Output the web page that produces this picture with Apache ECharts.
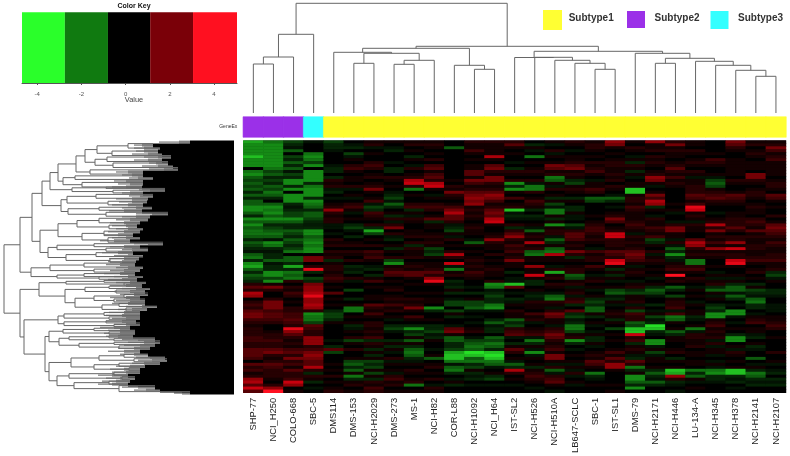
<!DOCTYPE html>
<html>
<head>
<meta charset="utf-8">
<style>html,body{margin:0;background:#fff}#chart{width:790px;height:456px}</style>
<script src="https://cdn.jsdelivr.net/npm/echarts@6/dist/echarts.min.js"></script>
</head>
<body>
<div id="chart"></div>
<script>
const cellLines = ["SHP-77","NCI_H250","COLO-668","SBC-5","DMS114","DMS-153","NCI-H2029","DMS-273","MS-1","NCI-H82","COR-L88","NCI-H1092","NCI_H64","IST-SL2","NCI-H526","NCI-H510A","LB647-SCLC","SBC-1","IST-SL1","DMS-79","NCI-H2171","NCI-H446","LU-134-A","NCI-H345","NCI-H378","NCI-H2141","NCI-H2107"];
const subtypeNames = ["Subtype1","Subtype2","Subtype3"];
const subtypeColors = ["#ffff33","#9b30e8","#33ffff"];
const lineSubtype = [1,1,1,2,0,0,0,0,0,0,0,0,0,0,0,0,0,0,0,0,0,0,0,0,0,0,0];

const keyBreaks = [-4.69,-2.75,-0.8,1.11,3.05,5.04];
const keyColors = ["#2aff2a","#107a10","#000000","#7a0008","#ff1020"];
const keyTicks = [-4,-2,0,2,4];

// one array per cell line, top row first, 85 rows
const heatColumns = [
[-3.5,-3,-3,-3,-3,-4,-3,-3,-3,0, -2.5,-3,-2,-1.5,-2,-1.5,-2,-1,-2,-1, -2,-2,-3,-3,-2,-1,-3,-2,-3,-2, -2.5,-2.5,-2,-1,-2,-1.5,-1,-.5,-2,-2.5, -1,-3,-3.5,-2,-1,-2,-1.5,-1,1,2, 1,3.5,3,0,1,1.5,1,2,2.5,2.5, 1.5,1,.5,1,1,1,1.5,1.5,1,1, 2,2,2,1.5,0,2,1,1.5,.5,1, 3,3.5,2,4,2],
[-2.5,-3,-3,-3,-3,-3,-3,-3,-3,-2.5, -1.5,-2,-1,-1.5,-1,-2,-1.5,-2.5,-2,-1, 0,-2,-3,-2.5,-3,-2,-3,-2,-1,-1.5, -2,-2.5,-2,-.5,-3,-2.5,-1,-.5,-1,-1, -2,-.5,-1,-1,-3,-3,-1.5,-3,.5,2.5, 1,0,0,1,2.5,2.5,2.5,1.5,2,2, 1.5,1,0,0,.5,1,1,1.5,1,1, 2,2.5,1,.5,1,2,1.5,1,1,1, .5,0,1,3,5],
[-1.5,-1,-.5,-2,0,-1.5,-1,-2,-1,-2, -.5,-1.5,-1,-3,-3,-1,-3,0,-3,-3, -3,-1,-.5,-1,-1.5,-1.5,-3,-2,-1,-1, -2,-1.5,-1,-2,-1.5,-1,-1.5,-2.5,0,-2, -2,-1,-3.5,-1,-2.5,-2,-2.5,1,0,1, .5,1.5,1,0,.5,0,1,1,1.5,1.5, 2,1.5,1,4.5,3,2,1,.5,1,.5, 1.5,2,1,2.5,1,1.5,.5,2,1,1, 1.5,4,3,0,.5],
[-.5,0,0,0,-2.5,-3,-2.5,-1.5,-3,0, -3,-3,-3,-3,-1,-2.5,-3,-3,-3,-1, -3,-2.5,-2,-1,-2,-2,-1.5,-1,-.7,-1, -3,-3,-2,-2.5,-3,-2.5,-3,-3,0,2.5, 2.5,0,1,4.5,-1,0,-1.5,-1,2.5,3, 3,3.5,4.5,3,3,3.5,3,1,-3,-2.5, -2.5,-1.5,2,1.5,1,1,3,3,3,1, 1.5,2.5,3,2.5,2,2,3.5,1,-1,1, .5,-1,0,-.5,0],
[-1.5,-1,-1,-.5,0,0,0,0,-.5,-1, -1,0,-1,1,.5,1,-.5,-1,0,-.5, 0,.5,1,3,1,.5,1,1,-.5,-.5, 0,-.5,0,1,.5,1,0,1,.5,1, -1,.5,1,1,.5,1,1.5,1,0,.5, 0,2,0,.5,0,.5,0,-1,-1.5,-1.5, -1,.5,0,0,0,0,0,-.5,0,-1, 2,-1.5,0,0,0,.5,0,.5,0,1, 0,.5,0,.5,1],
[0,-.5,-1,0,-1.5,-.5,.5,0,1,1.5, .5,0,.5,.5,0,1,-.5,0,.5,-.5, 0,1,1.5,.5,-.5,0,.5,0,-1,-1.5, -.5,0,-1,0,.5,1,0,1,.5,0, 1,0,-1,-.5,-1,0,1,-.5,0,0, -1.5,0,0,-1,0,.5,-2.5,-2.5,0,.5, 0,.5,-1,-.5,.5,0,1,-1.5,.5,0, 1,0,0,.5,-1.5,-2,-1,-2,.5,-2.5, -1,.5,1,0,.5],
[.5,1,-.5,0,.5,0,0,1,1.5,1, 0,.5,1,0,.5,1,2.5,.5,0,.5, 1.5,-.5,-1.5,-1,1.5,1,.5,0,1,-1, -3.5,-1.5,0,.5,0,1,0,1.5,1,1.5, .5,0,-.5,-1,0,-1,.5,1.5,0,.5, 0,0,.5,.5,0,2,1,.5,1.5,.5, 0,1,1,.5,1,.5,1.5,-1,1,.5, -1,.5,-1,.5,-1.5,-1,-1.5,.5,-1.5,.5, -1,1,.5,1.5,1],
[.5,0,-.5,-1,0,0,0,-.5,0,-1, -1,0,1,.5,0,.5,0,-.5,-1,-1.5, -.5,-2,-1,0,.5,-1,1,-.5,1,2.5, 0,1,-.5,-1,0,.5,-1,.5,0,1, -1.5,-3,.5,1,2,1.5,0,.5,0,.5, 1,0,.5,1,.5,1.5,.5,1,0,.5, -.5,0,-1,-1.5,-.5,0,0,-1,.5,-1, .5,-.5,0,1,-.5,.5,0,.5,-.5,1, 1.5,.5,1,0,.5],
[.5,1,0,.5,0,-1,.5,0,-.5,1, 0,.5,1,3.5,4,1,-2.5,0,.5,0, 0,1,1.5,-1,.5,-.5,1,.5,0,0, .5,.5,1,0,1,-1,1,.5,.5,1, 0,.5,1,.5,2,2,.5,0,.5,0, 0,.5,0,1,.5,1,2.5,.5,0,1.5, .5,0,-1,-3,-1,-1.5,.5,-2,.5,-1, -2,-2.5,-2,-1,-.5,.5,0,1,.5,0, .5,1,-2.5,0,.5],
[.5,1,.5,0,.5,0,1,0,1.5,2, .5,1.5,2,1,3.5,4,.5,0,-.5,.5, 0,1,1.5,1,0,.5,2,-1,.5,.5, 0,.5,1,.5,1,.5,-1.5,-1,-1.5,.5, 0,.5,.5,1,2,1,3,4.5,.5,0, 0,.5,0,.5,.5,0,-3,-1,0,0, .5,0,-1,-1,-1.5,-.5,-1,.5,0,0, -.5,0,.5,-2,0,.5,1,0,.5,0, 1,0,-.5,1,.5],
[0,0,-2,0,0,0,0,0,0,0, 0,0,0,.5,0,1,.5,2.5,1,.5, 0,.5,1.5,2.5,3.5,2,2,1,-.5,-1, -1.5,.5,-.5,1,0,.5,0,1,3.5,1, 0,4,-.5,-2.5,.5,1,0,-1,-.5,-1, .5,-1,0,-.5,-1.5,-1.5,0,-1.5,.5,-1, 0,0,-.5,2,2.5,.5,-2,-2,-1,-1, -1.5,-3.5,-4,-4,-2.5,-.5,-2,-2.5,-1,0, -.5,.5,-1,0,0],
[1,.5,.5,1.5,.5,0,.5,0,.5,.5, 2,2,.5,2.5,1.5,.5,1,2,2.5,3, 2.5,3,.5,1,.5,1,.5,0,.5,1, .5,.5,0,-.5,-2,.5,0,.5,0,.5, 1,.5,1,.5,1.5,1,.5,0,0,-.5, 0,-1,0,.5,-1.5,-1.5,-2,-.5,0,-.5, 0,-.5,0,.5,1,0,-.5,-1.5,-2,-2.5, -2,-4.5,-4,-2,-2.5,-1,-1.5,.5,-1,-.5, -1,0,-.5,0,0],
[1,.5,.5,.5,.5,3.5,.5,0,2,2.5, 1,.5,2.5,2.5,1,.5,1,2,3,2.5, 1.5,.5,1,2,2.5,2,3.5,4,.5,0, 0,.5,1,3,1,.5,.5,0,1,0, .5,0,.5,1,.5,.5,0,1,-3,-2.5, -.5,-1,-1.5,-1,-1,-2.5,-3,-.5,0,0, -1,-2,-.5,-1,-1,0,-2,-1.5,-2.5,-2, -1,-4,-4.5,-4,-2.5,-2,-.5,0,.5,-1, -1.5,0,-.5,0,0],
[1,2,.5,0,.5,0,0,-.5,0,-1, 1,.5,0,1,-3,-1,-3,.5,0,1.5, 0,.5,1,-4,-.5,-1,-.5,0,1,-1, 1,2,3,1,.5,1.5,1,1.5,.5,1, 2.5,.5,.5,0,-1,0,-.5,-.5,-4,2, 0,-.5,0,-1,-.5,.5,0,1,.5,.5, -2,-1,-1.5,1,1.5,2,-.5,0,-1,.5, 2,1,0,.5,-.5,-2,-1,3.5,1,0, .5,0,-.5,0,0],
[0,-1,.5,-.5,0,-2.5,0,.5,0,.5, 1,.5,0,1,-.5,-2.5,-2.5,1,0,.5, 1.5,1,.5,-1,0,-1,-.5,0,.5,-.5, -2,.5,1,.5,3.5,.5,1,-2,-2.5,.5, .5,0,3,.5,.5,4,.5,-1,-1,0, .5,-.5,-1,-.5,1,.5,.5,0,1.5,.5, 1,-.5,0,.5,1,1.5,-.5,-2.5,-1,.5, -.5,-3,-.5,.5,0,.5,-1,.5,1,1.5, 1,.5,0,-.5,0],
[.5,-.5,0,1,-.5,.5,0,.5,2.5,2, .5,1,-2.5,-2,.5,-.5,1,0,.5,-1, .5,-1.5,-.5,-2.5,-2.5,.5,-1,.5,-3,.5, 1,1,-.5,-2,-1,.5,-2,-2.5,3.5,.5, .5,0,-.5,1,-3.5,.5,1,0,1,.5, 0,-.5,-2,-2.5,1,.5,-.5,1,2.5,2, .5,.5,-.5,1,1.5,2.5,2,1,.5,1, 1.5,.5,2.5,2.5,.5,-.5,1,-2,-.5,1, 1.5,2,.5,0,-.5],
[1,.5,0,-.5,0,.5,.5,1,2,2.5, .5,1,.5,-1,-1.5,.5,1,.5,0,-1, .5,0,-1,-1,.5,-.5,-.5,0,-1.5,-.5, 1,2,2,1.5,.5,1,.5,2.5,1,-1, .5,0,.5,1,1,-2,-1.5,.5,1,-.5, .5,1,-.5,1,1.5,-1,0,2,-1,-1.5, -.5,-1,-2.5,-2.5,-1.5,.5,1,-3,-1,0, -.5,0,.5,0,.5,-.5,.5,-.5,1,-.5, 0,.5,-.5,0,0],
[.5,1,1,.5,0,.5,0,1,.5,1, 1.5,.5,0,-.5,.5,.5,1.5,1,0,-2, -1.5,0,0,0,0,.5,0,.5,1,1.5, 1.5,1,.5,1,.5,0,-.5,1.5,.5,1, 1,0,1.5,.5,0,-.5,.5,1,0,.5, -.5,0,.5,-1,-1.5,-1,-2,-2,.5,-1, 0,.5,-.5,0,-.5,.5,-1,-1,.5,-.5, 0,.5,1,.5,2,1.5,.5,0,-2.5,-1, -.5,0,.5,0,0],
[3,2.5,.5,0,.5,0,.5,1,1,.5, .5,1,.5,1,0,1,.5,0,-.5,-2, -1,0,-.5,0,.5,1,2.5,1.5,0,.5, 1,4,4,1,1,1,.5,2,1.5,1, 4,4.5,.5,-1,.5,-1,.5,-.5,0,.5, -1.5,-2,-.5,-1,.5,-.5,0,.5,1,.5, -1,.5,0,-1.5,0,.5,0,.5,0,0, .5,1.5,.5,2,1,3,3,.5,0,0, 0,0,.5,0,.5],
[.5,0,1,.5,0,-.5,.5,-1,1,.5, -1,.5,-.5,0,.5,.5,-4,-4,.5,1, 1,.5,1.5,1,.5,.5,.5,1,1.5,1, .5,-.5,1,.5,1,.5,1,2,2.5,2, 1.5,.5,-.5,.5,1,.5,0,-.5,.5,1, -1,-1.5,.5,.5,1,-.5,1,-1.5,1.5,1, 1,-2,-1.5,-4,-4,4,1,1.5,-1,.5, 1,.5,-.5,-1,2,1,-2.5,-1,.5,-3, -3,-2,-1,-3,0],
[3,.5,.5,1,0,1,.5,1,.5,0, .5,1,3,2.5,.5,-.5,0,.5,2.5,1.5, 3.5,3,-1,.5,0,-.5,1,.5,.5,1.5, 1,.5,1.5,-1.5,-1,.5,0,1,-.5,.5, 1,.5,0,.5,0,.5,-.5,0,.5,-1, -2,-1.5,-.5,0,0,-1,0,-.5,.5,-1.5, -.5,-1,-4.5,-4,-1,-.5,0,-3,-3,-.5, .5,-1.5,-.5,.5,.5,0,.5,-1,-2,-1, -.5,-2,-1,0,0],
[1,2.5,.5,1,.5,.5,0,.5,1,2, 1,.5,1.5,.5,1,.5,0,0,0,0, 0,.5,0,.5,-.5,0,0,-.5,1,2.5, 2.5,.5,.5,-.5,1,-.5,-2,-1,-3,-1, -.5,.5,1,1.5,.5,5,.5,1,0,-2, -1,0,-1.5,.5,1,1,1.5,-.5,1.5,-2.5, -2,.5,0,.5,-2,-1,.5,.5,0,0, .5,1,0,-1,.5,0,.5,-4,-3.5,3, 1,-1,-.5,0,-.5],
[.5,.5,0,1,.5,0,.5,1,.5,0, 1,.5,-.5,.5,.5,1,1,1,2,1.5, .5,1.5,4.5,4,.5,1,.5,-.5,1,.5, .5,0,0,2,3.5,3,1,.5,1,.5, -2.5,-2.5,1,1.5,.5,0,1,.5,0,-.5, .5,0,.5,0,-.5,.5,0,.5,.5,-1, -.5,0,.5,-2.5,-.5,1,1,.5,.5,1, 0,.5,.5,0,.5,.5,0,-2.5,-1,-2, .5,-.5,0,.5,0],
[0,0,0,0,.5,0,1.5,1,.5,0, 0,.5,-.5,-1.5,-2,-1.5,.5,1,1.5,2, 1,.5,0,0,-.5,0,.5,1,3.5,1, 2.5,.5,1,.5,1.5,.5,3,.5,1,.5, 0,0,.5,0,-.5,.5,-.5,.5,1,-1, -2,.5,-.5,.5,0,-1,-1.5,-1,-3,-3, .5,1,1.5,.5,1,.5,1,-.5,1,-.5, .5,.5,-.5,0,-.5,.5,-.5,-2.5,-3,-1, -1,-.5,0,0,0],
[2.5,2,1,.5,0,0,.5,.5,.5,.5, .5,.5,0,1,.5,0,0,.5,2,1.5, 1,.5,0,0,.5,.5,1,1,1,2, 1,0,1,1,3,.5,4,.5,1,1, 4,4.5,.5,0,0,.5,-.5,.5,-1,-2, -2,-.5,-2,-1,0,-.5,0,-3,-3,-.5, 0,-.5,0,.5,0,-1,-3,-3,0,.5, -.5,1,.5,0,.5,0,.5,-4,-4,-1, -.5,-1,0,-.5,0],
[.5,1,0,.5,1,.5,0,.5,.5,.5, 0,2.5,2.5,1,.5,0,.5,1,1,.5, 0,.5,1,.5,.5,0,1,1.5,1,.5, 2,.5,1,.5,.5,1,1,.5,.5,1, 1.5,.5,0,.5,1,0,.5,0,-1,.5, -1.5,-1,-.5,-2,-2.5,-1,-1,0,-.5,.5, 1,1.5,0,.5,.5,-.5,-1,0,.5,-1, -.5,0,0,-2,0,-.5,.5,-1,-2.5,-2, -1,-.5,-1,0,0],
[.5,1,2.5,1.5,.5,1,1.5,.5,.5,.5, .5,.5,0,.5,1,1,.5,0,2,1.5, .5,0,.5,0,0,1,0,.5,2,2.5, 2,1.5,1,.5,1.5,1,.5,.5,1,1, 1.5,.5,.5,1,-1,-1.5,-.5,.5,0,0, -1,-1,-.5,0,0,-.5,-.5,-.5,0,.5, .5,1,1.5,1,0,0,.5,0,0,0, 0,1,0,0,.5,-.5,0,-.5,-1,0, -1,-.5,-1,0,0]
];

// column tree: [node a, node b, height]; 0-26 are leaves, later merges are 27, 28, ...
const colMerges = [
[0,1,49],[27,2,56],[28,3,78.7],[5,6,49.7],[7,8,48.7],[31,9,52.7],[30,32,59.7],[4,33,60.7],
[11,12,43.7],[10,35,47.7],[34,36,64.7],[17,18,43.7],[16,38,49.7],[15,39,52.7],[14,40,55.7],
[13,41,55.5],[20,21,49.7],[25,26,36.7],[24,44,42.7],[23,45,47.7],[22,46,51.7],[43,47,54.7],
[19,48,59.7],[42,49,61.7],[37,50,66.7],[29,51,109.7]
];

// row tree, only the upper levels: [distance, upper child, lower child]; a plain number is a row position
const rowTree = [230,
 [214,
  [202,
   [192,
    [184,
     [176,
      [158,
       [149,[137,[106,1,2.5],[122,3.5,5]],[139,[127,5.5,7],[121,7.5,9]]],
       [144,9.8,11.2]],
      [171,[159,11.8,13],[152,14,15.5]]],
     [162,[128,15.6,16],[121,16.6,17.5]]],
    [173,
     [167,[138,18,19.3],[126,20.3,21.5]],
     [166,[135,22.3,23.3],[128,24,25.3]]]],
   [194,
    [176,[157,[135,26,27.5],[125,28.3,29.5]],[152,[130,30.3,31.8],[126,32.5,34]]],
    [186,[177,[140,34.5,35.5],[128,36,37]],[168,[138,37.5,38.8],[124,39.5,40.7]]]]],
  [203,
   [184,[150,41,42.3],[140,43,44]],
   [177,[150,44.5,45.5],[135,45.6,46.4]]]],
 [214,
  [195,
   [168,[130,46.8,47.4],[110,47.7,48.3]],
   [169,
    [149,[125,48.7,49.5],[118,50,51]],
    [159,[140,[110,51.5,52.5],[120,53,54]],[132,[115,54.5,55.5],[108,56,57]]]]],
  [210,
   [176,[170,[130,57.5,58.5],[125,59,59.8]],[170,[128,60.3,61],[120,61.5,62.3]]],
   [189,
    [185,
     [171,[140,62.8,63.6],[125,64,64.8]],
     [175,[165,[125,65.3,66],[120,66.3,67]],[155,[120,67.5,68.2],[115,68.7,69.5]]]],
    [185,
     [163,[135,[110,71.5,72.5],[100,73,74]],[140,[115,74.5,75.5],[105,76,77]]],
     [177,[165,[120,77.5,78.5],[112,79,80]],[160,[125,80.5,81.5],[115,82,84]]]]]]]];

// how far the dense leaf ends of the row tree reach, per row
const fringeSolid = [44,81,74,76,72,63,72,66,61,56,91,91,81,91,91,92,69,91,81,86,87,91,82,92,66,84,86,94,97,91,94,101,94,104,71,94,86,101,91,95,98,99,91,94,99,91,97,88,92,84,89,86,94,89,89,77,87,94,94,94,98,94,104,99,99,101,79,74,79,84,94,86,69,67,74,89,94,94,106,99,104,106,79,74,44];
const fringeBand = [55,92,90,90,86,76,86,78,76,70,106,102,96,108,104,108,84,104,94,102,102,106,98,110,82,98,104,110,108,106,110,116,108,120,86,110,102,116,106,110,112,114,106,110,114,106,112,104,108,98,104,100,108,104,106,92,102,110,112,108,112,108,120,114,114,116,96,90,94,100,110,100,84,82,90,104,110,108,122,114,118,122,96,88,52];
const fringeGray = [75,100,100,98,102,90,100,85,92,85,118,112,105,120,116,122,95,112,105,118,115,122,112,125,98,112,118,124,122,118,126,130,122,134,100,124,112,132,120,125,126,128,118,124,130,120,126,118,124,112,120,114,124,118,122,108,116,125,128,122,128,120,134,126,130,128,112,106,110,116,126,114,98,96,102,118,124,122,136,128,132,136,112,100,60];

const rowCount = heatColumns[0].length;
const rowIds = heatColumns[0].map((v, i) => i);
const heatData = [];
heatColumns.forEach((col, c) => col.forEach((v, r) => heatData.push([c, r, v])));

// column tree to line pieces
const colSegs = [];
const colNodes = cellLines.map((n, i) => ({ x: i, h: 0 }));
colMerges.forEach(function (m) {
  const a = colNodes[m[0]], b = colNodes[m[1]];
  colSegs.push([a.x, a.h, a.x, m[2]], [b.x, b.h, b.x, m[2]], [a.x, m[2], b.x, m[2]]);
  colNodes.push({ x: (a.x + b.x) / 2, h: m[2] });
});

// row tree to line pieces
const rowSegs = [];
function walkRow(node) {
  if (typeof node === "number") {
    return { r: node, d: fringeSolid[Math.floor(node)] };
  }
  const a = walkRow(node[1]), b = walkRow(node[2]);
  rowSegs.push([node[0], a.r, a.d, a.r], [node[0], b.r, b.d, b.r], [node[0], a.r, node[0], b.r]);
  return { r: (a.r + b.r) / 2, d: node[0] };
}
walkRow(rowTree);

const grayData = rowIds.map(r => [fringeGray[r], r + 0.5, fringeBand[r]]);
const bandData = rowIds.map(r => [fringeBand[r], r, fringeSolid[r]]);
const solidData = rowIds.map(r => [fringeSolid[r], r]);

function segItem(params, api) {
  const p1 = api.coord([api.value(0), api.value(1)]);
  const p2 = api.coord([api.value(2), api.value(3)]);
  return {
    type: "line",
    shape: { x1: p1[0], y1: p1[1], x2: p2[0], y2: p2[1] },
    style: { stroke: "#666", lineWidth: 1 },
  };
}

const textFont = "Liberation Sans";
const myChart = echarts.init(document.getElementById("chart"), null, { renderer: "canvas" });

const option = {
  animation: false,
  backgroundColor: "#fff",
  textStyle: { fontFamily: textFont },
  grid: [
    { left: 22, top: 12.3, width: 215, height: 70.7 },
    { left: 243.3, top: 0, width: 542.7, height: 113 },
    { left: 243.3, top: 117, width: 542.7, height: 20 },
    { left: 243.3, top: 140.6, width: 542.7, height: 254, show: true, backgroundColor: "#000", borderWidth: 0 },
    { left: 4, top: 140.6, width: 230, height: 254 },
  ],
  xAxis: [
    {
      gridIndex: 0, type: "value", min: keyBreaks[0], max: keyBreaks[5],
      splitLine: { show: false },
      axisLine: { lineStyle: { color: "#555" } },
      axisTick: { length: 2, lineStyle: { color: "#555" }, customValues: keyTicks },
      axisLabel: { fontSize: 6, color: "#555", margin: 8, customValues: keyTicks },
    },
    { gridIndex: 1, type: "value", min: -0.5, max: 26.5, show: false },
    { gridIndex: 2, type: "category", data: cellLines, show: false },
    {
      gridIndex: 3, type: "category", data: cellLines,
      axisLine: { show: false }, axisTick: { show: false },
      axisLabel: { interval: 0, rotate: 90, fontSize: 9.4, color: "#222", margin: 5 },
    },
    { gridIndex: 4, type: "value", min: 0, max: 230, inverse: true, show: false },
  ],
  yAxis: [
    { gridIndex: 0, type: "value", min: 0, max: 1, show: false },
    { gridIndex: 1, type: "value", min: 0, max: 113, show: false },
    {
      gridIndex: 2, type: "category", data: ["GeneEx"],
      axisLine: { show: false }, axisTick: { show: false },
      axisLabel: { fontSize: 5, color: "#333", margin: 6 },
    },
    { gridIndex: 3, type: "category", data: rowIds, inverse: true, show: false },
    { gridIndex: 4, type: "value", min: 0, max: rowCount, inverse: true, show: false },
  ],
  visualMap: {
    show: false, seriesIndex: 3, dimension: 2, min: -5, max: 5,
    // weak values stay close to black, as in the reference
    inRange: { color: ["#2aff2a", "#22c022", "#158a15", "#0d5a0d", "#052305", "#000000", "#260002", "#550004", "#8e0006", "#c8000e", "#ff1020"] },
  },
  title: [
    { text: "Color Key", left: 129, top: -2, textAlign: "center", textStyle: { fontSize: 7, fontWeight: "bold", color: "#111", fontFamily: textFont } },
    { text: "Value", left: 129, top: 91, textAlign: "center", textStyle: { fontSize: 7.4, fontWeight: "normal", color: "#444", fontFamily: textFont } },
  ],
  graphic: [
    { type: "rect", shape: { x: 543, y: 10, width: 19, height: 20 }, style: { fill: subtypeColors[0] } },
    { type: "rect", shape: { x: 627, y: 11, width: 18, height: 17 }, style: { fill: subtypeColors[1] } },
    { type: "rect", shape: { x: 710.5, y: 11, width: 18, height: 18 }, style: { fill: subtypeColors[2] } },
    { type: "text", x: 568.7, y: 13, style: { text: subtypeNames[0], font: "bold 10px " + textFont, fill: "#333" } },
    { type: "text", x: 654.5, y: 13, style: { text: subtypeNames[1], font: "bold 10px " + textFont, fill: "#333" } },
    { type: "text", x: 738, y: 13, style: { text: subtypeNames[2], font: "bold 10px " + textFont, fill: "#333" } },
  ],
  series: [
    {
      type: "custom", xAxisIndex: 0, yAxisIndex: 0, silent: true,
      data: keyColors.map((c, i) => [keyBreaks[i], keyBreaks[i + 1], i]),
      encode: { x: [0, 1] },
      renderItem: function (params, api) {
        const p1 = api.coord([api.value(0), 1]);
        const p2 = api.coord([api.value(1), 0]);
        return {
          type: "rect",
          shape: { x: p1[0], y: p1[1], width: p2[0] - p1[0], height: p2[1] - p1[1] },
          style: { fill: keyColors[api.value(2)] },
        };
      },
    },
    { type: "custom", xAxisIndex: 1, yAxisIndex: 1, silent: true, data: colSegs, renderItem: segItem },
    {
      type: "heatmap", xAxisIndex: 2, yAxisIndex: 2, silent: true,
      data: lineSubtype.map((s, i) => ({
        value: [i, 0, s],
        itemStyle: { color: subtypeColors[s], borderColor: subtypeColors[s], borderWidth: 0.6 },
      })),
    },
    { type: "heatmap", xAxisIndex: 3, yAxisIndex: 3, silent: true, progressive: 0, data: heatData },
    {
      // thin gray comb, left of the gray band
      type: "custom", xAxisIndex: 4, yAxisIndex: 4, silent: true, data: grayData,
      renderItem: function (params, api) {
        const p1 = api.coord([api.value(0), api.value(1)]);
        const p2 = api.coord([api.value(2), api.value(1)]);
        return {
          type: "line",
          shape: { x1: p1[0], y1: p1[1], x2: p2[0], y2: p2[1] },
          style: { stroke: "#8a8a8a", lineWidth: 1.4 },
        };
      },
    },
    {
      type: "custom", xAxisIndex: 4, yAxisIndex: 4, silent: true, data: bandData,
      renderItem: function (params, api) {
        const p1 = api.coord([api.value(0), api.value(1)]);
        const p2 = api.coord([api.value(2), api.value(1) + 1]);
        return {
          type: "rect",
          shape: { x: p1[0], y: p1[1], width: p2[0] - p1[0], height: p2[1] - p1[1] },
          style: { fill: "#808080" },
        };
      },
    },
    {
      type: "custom", xAxisIndex: 4, yAxisIndex: 4, silent: true, data: solidData,
      renderItem: function (params, api) {
        const p1 = api.coord([api.value(0), api.value(1)]);
        const p2 = api.coord([0, api.value(1) + 1.3]);
        return {
          type: "rect",
          shape: { x: p1[0], y: p1[1], width: p2[0] - p1[0], height: Math.min(p2[1], api.coord([0, rowCount])[1]) - p1[1] },
          style: { fill: "#000" },
        };
      },
    },
    { type: "custom", xAxisIndex: 4, yAxisIndex: 4, silent: true, data: rowSegs, renderItem: segItem },
  ],
};

myChart.setOption(option);
</script>
</body>
</html>
